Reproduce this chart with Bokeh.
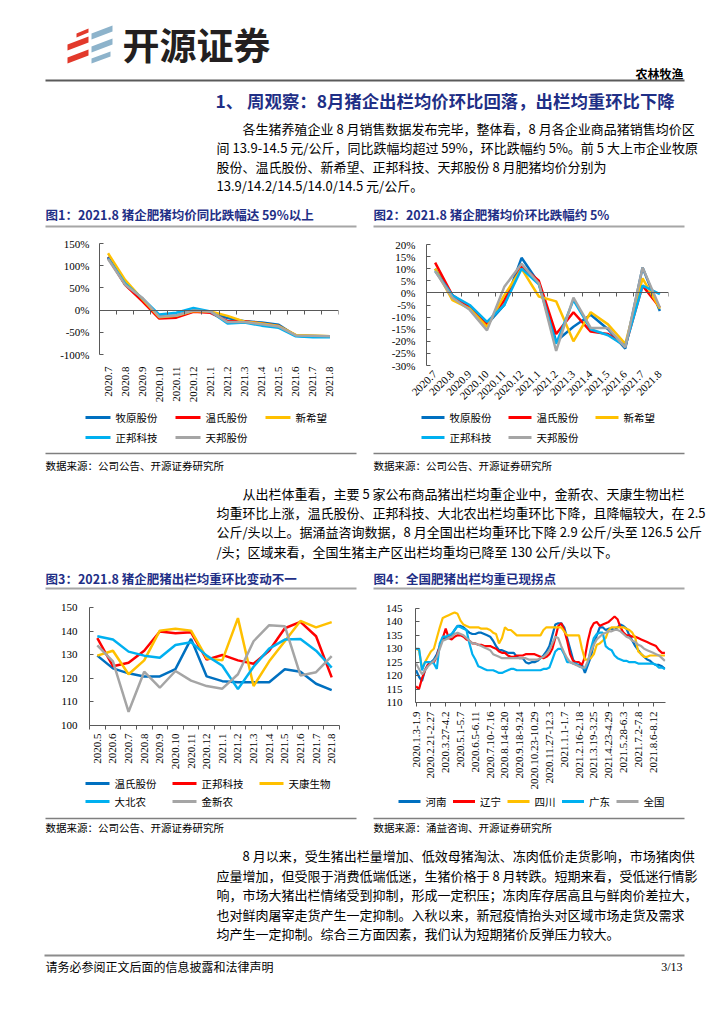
import math
from bokeh.plotting import figure
from bokeh.models import Range1d, FixedTicker, PrintfTickFormatter, Span, Plot, LinearAxis
from bokeh.layouts import column, row
from bokeh.embed import file_html
from bokeh.resources import INLINE
from bokeh.core.properties import value

CJK = "Noto Sans CJK SC"
SERIF = "Liberation Serif"
NAVY = "#1f2f86"
AX = "#595959"
C_BLUE, C_RED, C_GOLD, C_LBLUE, C_GREY = "#0070C0", "#FF0000", "#FFC000", "#00B0F0", "#A5A5A5"
HAS_FRAME_ALIGN = "frame_align" in Plot.properties()

# ---------------- data ----------------
months_a = ["2020.7", "2020.8", "2020.9", "2020.10", "2020.11", "2020.12", "2021.1",
            "2021.2", "2021.3", "2021.4", "2021.5", "2021.6", "2021.7", "2021.8"]
companies_a = ["牧原股份", "温氏股份", "新希望", "正邦科技", "天邦股份"]
yoy_muyuan = [120, 58, 25, -14, -12, 0, -4, -18, -25, -28, -33, -58, -60, -60]
yoy_wens = [118, 57, 20, -19, -17, -4, -6, -25, -25, -30, -36, -57, -59, -60]
yoy_xinxiwang = [128, 68, 25, -16, -13, -2, -3, -13, -26, -30, -36, -56, -57, -59]
yoy_zhengbang = [117, 60, 27, -10, -6, 5, -3, -30, -28, -35, -40, -59, -61, -61]
yoy_tianbang = [115, 57, 28, -15, -12, -1, -3, -27, -27, -32, -37, -57, -58, -59]

mom_muyuan = [10, -1, -6, -13, -5, 14.5, 4, -20, -14, -9, -15, -23, 10.5, -7.5]
mom_wens = [12.5, -1, -6, -13, -3, 11, 5, -17, -8, -16, -17, -22, 3, -6]
mom_xinxiwang = [10, -3, -6.5, -14, -1, 10, -1.5, -3.5, -20, -8, -13, -21, 6, -6.5]
mom_zhengbang = [9, -1, -5, -12, -5, 10, 3.5, -21, -3, -15, -17.5, -22, 3, -0.5]
mom_tianbang = [9, -2, -7, -15.5, 2.5, 12, 4, -24, -2, -14.5, -14.5, -22.5, 10.5, -6]

months_b = ["2020.5", "2020.6", "2020.7", "2020.8", "2020.9", "2020.10", "2020.11", "2020.12",
            "2021.1", "2021.2", "2021.3", "2021.4", "2021.5", "2021.6", "2021.7", "2021.8"]
companies_b = ["温氏股份", "正邦科技", "天康生物", "大北农", "金新农"]
wt_wens = [129.6, 124.2, 122.1, 120.8, 120.8, 123.9, 136.7, 120.8, 118.8, 118.3, 118.3, 118.3, 123.8, 122.8, 117.7, 115.0]
wt_zhengbang = [137.0, 125.1, 126.6, 131.7, 139.8, 139.1, 139.5, 127.9, 129.9, 127.6, 126.2, 131.7, 141.2, 143.9, 137.8, 120.4]
wt_tiankang = [129.6, 131.7, 121.7, 127.6, 140.2, 141.0, 140.2, 128.5, 127.6, 145.5, 116.7, 127.2, 135.7, 144.3, 141.6, 143.8]
wt_dabeinong = [137.8, 136.4, 131.3, 129.6, 128.7, 134.1, 135.3, 129.6, 125.3, 115.4, 124.9, 132.6, 136.4, 136.7, 131.7, 124.5]
wt_jinxinnong = [134.0, 127.2, 105.8, 122.8, 116.0, 123.1, 119.0, 116.7, 115.6, 121.7, 135.7, 142.5, 142.1, 121.2, 122.6, 129.4]

week_labels = ["2020.1.3-1.9", "2020.2.21-2.27", "2020.3.27-4.2", "2020.5.1-5.7", "2020.6.5-6.11",
               "2020.7.10-7.16", "2020.8.14-8.20", "2020.9.18-9.24", "2020.10.23-10.29",
               "2020.11.27-12.3", "2021.1.1-1.7", "2021.2.16-2.18", "2021.3.19-3.25",
               "2021.4.23-4.29", "2021.5.28-6.3", "2021.7.2-7.8", "2021.8.6-8.12"]
regions = ["河南", "辽宁", "四川", "广东", "全国"]
w_henan = [122, 119.5, 118, 122, 124, 125, 126, 128, 131, 134,
           134, 134, 135, 137, 138.5, 138.5, 138, 137, 136, 135.5,
           135.5, 136, 136, 135.5, 135, 134.5, 133, 131, 129.5, 129.5,
           129, 128.5, 128.5, 128.5, 127, 126.5, 126.5, 125, 124.5, 125,
           125, 125.5, 126.5, 127.5, 129, 131, 135, 139, 139.5, 139.5,
           138, 134, 130, 126, 124, 124, 124, 121, 124, 127,
           132, 135, 138, 138, 137, 137.5, 137.5, 137, 138, 139,
           138.5, 137.5, 135, 133, 131, 129.5, 128, 127, 126, 125.5,
           124.5, 124, 124, 123.5, 122.5]
w_liaoning = [116, 115, 119, 122, 124, 125, 125, 127, 131, 134,
              137.5, 134, 133.5, 134.5, 135, 135, 134.5, 133.5, 133, 132,
              132, 131.5, 131.5, 131, 131, 131, 130.5, 130, 129, 128.5,
              128.5, 127.5, 127, 127, 127.5, 127.5, 127.5, 128, 128, 128,
              128, 127.5, 127, 126.5, 127, 128, 130, 134, 138.5, 139.5,
              137, 133, 128, 125.5, 125, 125, 124, 127, 133, 137.5,
              139.5, 140, 138.5, 139, 139.5, 140, 141, 142, 141, 138,
              136, 135, 135, 134.5, 134.5, 134, 133.5, 133, 132.5, 132,
              131.5, 131, 129.5, 128.5, 128.5]
w_sichuan = [130, 129.5, 122.5, 125, 127, 129, 130, 134, 138, 141.5,
             142, 142.5, 143, 143.5, 143, 140.5, 139, 138.5, 138, 138,
             138, 138, 137.5, 137.5, 137.5, 137, 136, 135.5, 132, 134,
             138, 137, 137, 136, 135, 135, 135, 135, 135, 135,
             135, 135, 135, 137, 138, 138, 138, 138, 138, 138,
             136.5, 135, 135, 135, 135, 135, 130, 126, 126, 126.5,
             128, 131.5, 132, 133, 134, 137, 138, 138, 138, 138,
             138, 137.5, 137, 136, 134, 129, 128, 127, 127, 127.5,
             127.5, 127.5, 127.5, 127.5, 127.5]
w_guangdong = [130, 130, 122, 125, 125, 125, 124.5, 122.5, 132, 134.5,
               134.5, 135, 135.5, 137, 138.5, 138, 137.5, 137, 132, 128,
               126, 123.5, 123, 122.5, 122, 122, 122, 121.5, 121, 121,
               121.5, 122, 122.5, 122.5, 122, 122, 122, 122, 122, 122,
               122, 122, 122, 122.5, 122.5, 123, 126, 129, 130, 130,
               128, 125, 125, 124.5, 124.5, 123.5, 123, 122.5, 125, 130,
               134, 135.5, 136, 136, 131, 130, 129.5, 127.5, 126.5, 126,
               125.5, 125.5, 125, 125, 125, 124.5, 124.5, 124.5, 124.5, 124.5,
               124.5, 124, 123, 123, 122.5]
w_national = [124.5, 122.5, 120.5, 122, 123.5, 124.5, 125.5, 127, 130, 133,
              133.5, 134, 134.5, 135.5, 136, 135.5, 135, 134, 133, 132,
              132, 131.5, 131, 130.5, 130, 129.5, 128, 127.5, 127, 126.5,
              126.5, 126.5, 126.5, 126.5, 126.5, 126.5, 126.5, 126.5, 126, 126,
              126, 126, 126.5, 127, 128, 129.5, 132, 134.5, 134, 131,
              128.5, 126.5, 125, 124.5, 124, 123.5, 123, 123, 125.5, 129,
              131.5, 133.5, 134.5, 135.5, 136, 136.5, 136.5, 137, 137, 136.5,
              135.5, 134.5, 134, 133, 132.5, 131.5, 131, 130, 129.5, 129,
              128.5, 128, 127.5, 126.5, 125.5]

# ---------------- text ----------------
title_text = "1、 周观察：8月猪企出栏均价环比回落，出栏均重环比下降"
para1 = ["各生猪养殖企业 8 月销售数据发布完毕，整体看，8 月各企业商品猪销售均价区",
         "间 13.9-14.5 元/公斤，同比跌幅均超过 59%，环比跌幅约 5%。前 5 大上市企业牧原",
         "股份、温氏股份、新希望、正邦科技、天邦股份  8  月肥猪均价分别为",
         "13.9/14.2/14.5/14.0/14.5 元/公斤。"]
para2 = ["从出栏体重看，主要 5 家公布商品猪出栏均重企业中，金新农、天康生物出栏",
         "均重环比上涨，温氏股份、正邦科技、大北农出栏均重环比下降，且降幅较大，在 2.5",
         "公斤/头以上。据涌益咨询数据，8 月全国出栏均重环比下降 2.9 公斤/头至 126.5 公斤",
         "/头；区域来看，全国生猪主产区出栏均重均已降至 130 公斤/头以下。"]
para3 = ["8 月以来，受生猪出栏量增加、低效母猪淘汰、冻肉低价走货影响，市场猪肉供",
         "应量增加，但受限于消费低端低迷，生猪价格于 8 月转跌。短期来看，受低迷行情影",
         "响，市场大猪出栏情绪受到抑制，形成一定积压；冻肉库存居高且与鲜肉价差拉大，",
         "也对鲜肉屠宰走货产生一定抑制。入秋以来，新冠疫情抬头对区域市场走货及需求",
         "均产生一定抑制。综合三方面因素，我们认为短期猪价反弹压力较大。"]
captions = ["图1：2021.8 猪企肥猪均价同比跌幅达 59%以上", "图2：2021.8 猪企肥猪均价环比跌幅约 5%",
            "图3：2021.8 猪企肥猪出栏均重环比变动不一", "图4：全国肥猪出栏均重已现拐点"]
src_company = "数据来源：公司公告、开源证券研究所"
src_yongyi = "数据来源：涌益咨询、开源证券研究所"

cols = [C_BLUE, C_RED, C_GOLD, C_LBLUE, C_GREY]


def text_fig(x_left, width, y_top, height, no_align=False):
    p = figure(width=width, height=height, x_range=Range1d(x_left, x_left + width),
               y_range=Range1d(y_top + height, y_top), output_backend="svg",
               toolbar_location=None, x_axis_location=None, y_axis_location=None,
               min_border=0)
    p.grid.visible = False
    p.outline_line_color = None
    if no_align and HAS_FRAME_ALIGN:
        p.frame_align = False
    return p


def put_text(p, x, y, txt, size="13px", color="#000000", bold=False, align="left", font=CJK):
    p.text(x=[x], y=[y], text=[txt], text_font=value(font), text_font_size=size,
           text_color=color, text_font_style="bold" if bold else "normal",
           text_align=align, text_baseline="middle")


def hline(p, x0, x1, y, color, w):
    p.segment(x0=[x0], y0=[y], x1=[x1], y1=[y], line_color=color, line_width=w)


def paragraph(p, lines, y0, step):
    for i, ln in enumerate(lines):
        put_text(p, 242 if i == 0 else 216, y0 + i * step, ln, size="13px")


def draw_legend(p, names, colors, x0, pitch, y0, row_h, ncols, glyph_w):
    for k, (nm, c) in enumerate(zip(names, colors)):
        x = x0 + (k % ncols) * pitch
        y = y0 + (k // ncols) * row_h
        p.segment(x0=[x], y0=[y], x1=[x + glyph_w], y1=[y], line_color=c, line_width=3)
        put_text(p, x + glyph_w + 5, y, nm, size="10.5px")


# ---------- top text block ----------
T1 = text_fig(0, 716, 0, 232)
red_shapes = ([[76, 88, 88, 76], [67, 88, 88, 67], [67, 88, 88, 67]],
              [[33, 28, 32, 37], [44, 36, 42, 50], [57, 49, 55, 63]])
blue_shapes = ([[91, 112, 112, 91], [91, 112, 112, 91], [91, 110, 110, 91]],
               [[33, 25, 31, 39], [46, 38, 44, 52], [58, 51, 56, 63]])
T1.patches(red_shapes[0], red_shapes[1], fill_color="#e2392b", line_color=None)
T1.patches(blue_shapes[0], blue_shapes[1], fill_color="#8db3cb", line_color=None)
put_text(T1, 122, 43, "开源证券", size="37px", color="#231f20", bold=True)
put_text(T1, 683, 73, "农林牧渔", size="12px", bold=True, align="right")
hline(T1, 45, 684, 80, "#5a5a5a", 2)
put_text(T1, 215, 100, title_text, size="17.4px", color=NAVY, bold=True)
paragraph(T1, para1, 128, 19)
put_text(T1, 45, 214, captions[0], size="12.5px", color=NAVY, bold=True)
put_text(T1, 373, 214, captions[1], size="12.5px", color=NAVY, bold=True)
hline(T1, 45, 356, 226, "#a6a6a6", 2)
hline(T1, 373, 684, 226, "#a6a6a6", 2)


# ---------- chart helpers ----------
def chart_fig(width, height, xr, yr, left, right, top, bottom):
    p = figure(width=width, height=height, x_range=xr, y_range=yr,
               output_backend="svg", toolbar_location=None,
               min_border_left=left, min_border_right=right,
               min_border_top=top, min_border_bottom=bottom)
    p.xgrid.visible = False
    p.ygrid.visible = False
    p.outline_line_color = None
    if HAS_FRAME_ALIGN:
        p.frame_align = False
    return p


def style_y(p, ticks, fmt, standoff):
    ya = p.yaxis[0]
    ya.ticker = FixedTicker(ticks=ticks)
    if fmt:
        ya.formatter = PrintfTickFormatter(format=fmt)
    ya.major_tick_in = 4
    ya.major_tick_out = 0
    ya.minor_tick_line_color = None
    ya.axis_line_color = AX
    ya.major_tick_line_color = AX
    ya.major_label_text_font = SERIF
    ya.major_label_text_font_size = "11px"
    ya.major_label_text_color = "#000000"
    ya.major_label_standoff = standoff


def style_x(p, tick_pos, labels, orient, standoff, bounds, show_line):
    xa = p.xaxis[0]
    xa.ticker = FixedTicker(ticks=tick_pos, minor_ticks=bounds)
    xa.major_label_overrides = {t: lab for t, lab in zip(tick_pos, labels)}
    xa.axis_line_color = AX if show_line else None
    xa.major_tick_line_color = None
    xa.minor_tick_line_color = AX if show_line else None
    xa.major_tick_out = 0
    xa.major_tick_in = 0
    xa.minor_tick_out = 4
    xa.minor_tick_in = 0
    xa.major_label_orientation = orient
    xa.major_label_standoff = standoff
    xa.major_label_text_font = SERIF
    xa.major_label_text_font_size = "11px"
    xa.major_label_text_color = "#000000"


def zero_axis(p, bounds):
    # category-boundary tick marks along the 0 line
    za = LinearAxis(fixed_location=0, ticker=FixedTicker(ticks=bounds),
                    axis_line_color=AX, major_tick_line_color=AX,
                    major_tick_out=4, major_tick_in=0, minor_tick_line_color=None,
                    major_label_text_color=None, major_label_text_font_size="1px",
                    major_label_standoff=0)
    p.add_layout(za, "below")


# ---------- chart 1 ----------
n_a = len(months_a)
idx_a = list(range(n_a))
bound_a = [i - 0.5 for i in range(n_a + 1)]
c1 = chart_fig(366, 173, Range1d(-0.5, n_a - 0.5), Range1d(-100, 150), 99, 28, 11, 46)
style_y(c1, [-100, -50, 0, 50, 100, 150], "%d%%", 10)
style_x(c1, idx_a, months_a, math.pi / 2, 8, bound_a, False)
zero_axis(c1, bound_a)
for s, c in zip([yoy_muyuan, yoy_wens, yoy_xinxiwang, yoy_zhengbang, yoy_tianbang], cols):
    c1.line(idx_a, s, line_color=c, line_width=2.5)

# ---------- chart 2 ----------
c2 = chart_fig(350, 173, Range1d(-0.5, n_a - 0.5), Range1d(-30, 20), 60, 48, 12, 40)
style_y(c2, list(range(-30, 21, 5)), "%d%%", 11)
style_x(c2, idx_a, months_a, math.pi / 4, 3, bound_a, False)
zero_axis(c2, bound_a)
for s, c in zip([mom_muyuan, mom_wens, mom_xinxiwang, mom_zhengbang, mom_tianbang], cols):
    c2.line(idx_a, s, line_color=c, line_width=2.5)

# ---------- middle text (legends 1/2, sources, paragraph 2, captions 3/4) ----------
T2 = text_fig(0, 716, 405, 189)
draw_legend(T2, companies_a, cols, 85, 90, 417, 20, 3, 25)
draw_legend(T2, companies_a, cols, 421, 87, 417, 20, 3, 23)
hline(T2, 45, 356, 453, "#7f7f7f", 1.5)
hline(T2, 373, 684, 453, "#7f7f7f", 1.5)
put_text(T2, 45, 465, src_company, size="10.5px")
put_text(T2, 373, 465, src_company, size="10.5px")
paragraph(T2, para2, 493, 19.2)
put_text(T2, 45, 578, captions[2], size="12.5px", color=NAVY, bold=True)
put_text(T2, 373, 578, captions[3], size="12.5px", color=NAVY, bold=True)
hline(T2, 45, 356, 588, "#a6a6a6", 2)
hline(T2, 373, 684, 588, "#a6a6a6", 2)

# ---------- chart 3 ----------
n_b = len(months_b)
idx_b = list(range(n_b))
c3 = chart_fig(366, 178, Range1d(-0.5, n_b - 0.5), Range1d(100, 150), 89, 27, 13, 43)
style_y(c3, [100, 110, 120, 130, 140, 150], None, 12)
style_x(c3, idx_b, months_b, math.pi / 2, 4, [i - 0.5 for i in range(n_b + 1)], True)
for s, c in zip([wt_wens, wt_zhengbang, wt_tiankang, wt_dabeinong, wt_jinxinnong], cols):
    c3.line(idx_b, s, line_color=c, line_width=2.5)
if HAS_FRAME_ALIGN:
    L3 = text_fig(0, 366, 772, 40, no_align=True)
else:
    L3 = text_fig(89, 250, 772, 40)
    L3.min_border_left = 89
    L3.min_border_right = 27
    L3.width = 366
draw_legend(L3, companies_b, cols, 85, 87, 783, 18, 3, 24)

# ---------- chart 4 ----------
n_w = len(w_national)
idx_w = list(range(n_w))
lab_pos = list(range(0, n_w, 5))
c4 = chart_fig(350, 198, Range1d(-0.2, n_w - 0.8), Range1d(110, 145), 49, 51, 14, 86)
style_y(c4, [110, 115, 120, 125, 130, 135, 140, 145], None, 13)
style_x(c4, lab_pos, week_labels, math.pi / 2, 5, lab_pos, True)
for s, c in zip([w_henan, w_liaoning, w_sichuan, w_guangdong, w_national], cols):
    c4.line(idx_w, s, line_color=c, line_width=2.2)
if HAS_FRAME_ALIGN:
    L4 = text_fig(366, 350, 792, 20, no_align=True)
else:
    L4 = text_fig(415, 250, 792, 20)
    L4.min_border_left = 49
    L4.min_border_right = 51
    L4.width = 350
draw_legend(L4, regions, cols, 398, 54.5, 801, 20, 5, 22)

# ---------- bottom text ----------
T3 = text_fig(0, 716, 812, 204)
hline(T3, 45, 356, 818, "#7f7f7f", 1.5)
hline(T3, 373, 684, 818, "#7f7f7f", 1.5)
put_text(T3, 45, 827, src_company, size="10.5px")
put_text(T3, 373, 827, src_yongyi, size="10.5px")
paragraph(T3, para3, 855, 19.5)
hline(T3, 44, 684, 955, "#8c8c8c", 2)
put_text(T3, 45, 966, "请务必参阅正文后面的信息披露和法律声明", size="12px")
put_text(T3, 682, 966, "3/13", size="12px", align="right", font=SERIF)

layout = column(T1, row(c1, c2, spacing=0), T2,
                row(column(c3, L3, spacing=0), column(c4, L4, spacing=0), spacing=0),
                T3, spacing=0)
open("out.html", "w").write(file_html(layout, INLINE))
